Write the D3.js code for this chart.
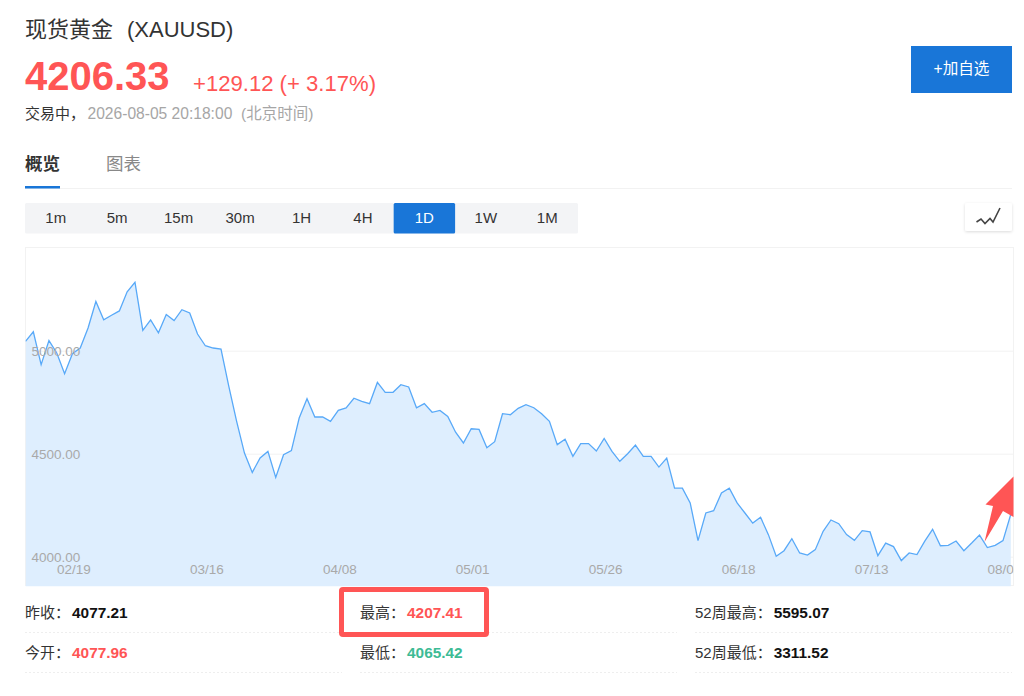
<!DOCTYPE html>
<html><head><meta charset="utf-8">
<script src="https://cdn.jsdelivr.net/npm/d3@7/dist/d3.min.js"></script>
<style>
html,body{margin:0;padding:0;background:#fff;overflow:hidden}
svg{display:block}
text{font-family:"Liberation Sans","Noto Sans CJK SC",sans-serif}
</style></head><body>
<svg id="c" width="1024" height="696"></svg>
<script>
const prices = [5045,5092,4932,5049,4989,4888,4985,5013,5110,5239,5150,5172,5193,5286,5332,5099,5150,5087,5176,5146,5199,5183,5081,5024,5013,5008,4827,4657,4503,4409,4479,4511,4385,4495,4515,4673,4767,4678,4678,4657,4710,4722,4769,4754,4743,4846,4798,4798,4835,4824,4723,4743,4701,4710,4681,4604,4552,4621,4618,4529,4558,4694,4689,4720,4738,4723,4694,4657,4544,4570,4487,4549,4549,4513,4574,4511,4463,4500,4542,4487,4487,4435,4479,4333,4333,4261,4078,4212,4223,4309,4332,4261,4212,4163,4191,4107,4002,4029,4087,4018,4008,4034,4123,4178,4160,4107,4079,4126,4120,4005,4066,4049,3981,4018,4010,4075,4133,4053,4055,4076,4029,4066,4105,4044,4055,4078,4206];
const xTickIndex = [6,23,40,57,74,91,108,125];
const xTickLabels = ["02/19","03/16","04/08","05/01","05/26","06/18","07/13","08/05"];
const yTicks = [4000,4500,5000];
const periods = ["1m","5m","15m","30m","1H","4H","1D","1W","1M"];
const activePeriod = "1D";
const statRows = [
  [["昨收","4077.21","#111"],["最高","4207.41","#ff5555"],["52周最高","5595.07","#111"]],
  [["今开","4077.96","#ff5555"],["最低","4065.42","#3dbb95"],["52周最低","3311.52","#111"]]
];

const svg = d3.select("#c");
const red = "#ff5555", blue = "#1976d8";
function T(x,y,s,size,fill,weight,anchor){
  return svg.append("text").attr("x",x).attr("y",y).attr("font-size",size).attr("fill",fill)
    .attr("font-weight",weight||400).attr("text-anchor",anchor||"start").text(s);
}
// header
T(25,37,"现货黄金",22,"#333");
T(127,37,"(XAUUSD)",22,"#333");
T(25,90,"4206.33",40,red,700);
T(193,91,"+129.12 (+ 3.17%)",22.1,red);
T(25,119,"交易中，",15,"#333");
T(87.5,119,"2026-08-05 20:18:00",15.6,"#a6a6a6");
T(241,119,"(北京时间)",15.5,"#a6a6a6");
svg.append("rect").attr("x",911).attr("y",46).attr("width",101).attr("height",47).attr("fill",blue);
T(961.5,74,"+加自选",15.6,"#fff",400,"middle");
// tabs
T(25,170,"概览",17.5,"#333",700);
T(106,170,"图表",17.5,"#888");
svg.append("line").attr("x1",25).attr("x2",1012).attr("y1",188.5).attr("y2",188.5).attr("stroke","#f2f2f2");
svg.append("rect").attr("x",25).attr("y",186).attr("width",35).attr("height",2.5).attr("fill",blue);
// period buttons
const pb = d3.scaleBand().domain(periods).range([25,578]);
svg.append("rect").attr("x",25).attr("y",203).attr("width",553).attr("height",30.5).attr("rx",1.5).attr("fill","#f3f4f6");
svg.selectAll("rect.p").data(periods).join("rect").attr("class","p")
  .attr("x",d=>pb(d)).attr("y",203).attr("width",pb.bandwidth()).attr("height",30.5).attr("rx",1.5)
  .attr("fill",d=>d===activePeriod?blue:"none");
svg.selectAll("text.p").data(periods).join("text").attr("class","p")
  .attr("x",d=>pb(d)+pb.bandwidth()/2).attr("y",222.7).attr("text-anchor","middle").attr("font-size",15)
  .attr("fill",d=>d===activePeriod?"#fff":"#333").text(d=>d);
// icon button
const defs = svg.append("defs");
const f = defs.append("filter").attr("id","sh").attr("x","-20%").attr("y","-20%").attr("width","140%").attr("height","150%");
f.append("feDropShadow").attr("dx",0).attr("dy",1).attr("stdDeviation",1.5).attr("flood-color","#000").attr("flood-opacity",0.14);
svg.append("rect").attr("x",965).attr("y",203).attr("width",47).attr("height",28).attr("rx",2).attr("fill","#fff").attr("filter","url(#sh)");
svg.append("path").attr("d","M976.5 222 L981 219 L985 223.5 L990 218.5 L993 222 L1000 208").attr("fill","none").attr("stroke","#444").attr("stroke-width",1.6);
// chart
const L=25.5,R=1013.5,TOP=247.5,BOT=585.5;
const x = d3.scaleLinear().domain([0,prices.length-1]).range([25.5,1010.8]);
const y = d3.scaleLinear().domain([3860,5500]).range([585.5,247.7]);
defs.append("clipPath").attr("id","plot").append("rect").attr("x",L).attr("y",TOP).attr("width",R-L).attr("height",BOT-TOP+1);
svg.append("rect").attr("x",L).attr("y",TOP).attr("width",R-L).attr("height",BOT-TOP).attr("fill","#fff").attr("stroke","#f2f2f2");
const g = svg.append("g").attr("clip-path","url(#plot)");
g.append("g").attr("transform",`translate(${L},0)`)
  .call(d3.axisRight(y).tickValues(yTicks).tickSize(R-L).tickFormat(""))
  .call(s=>s.select(".domain").remove())
  .call(s=>s.selectAll("line").attr("stroke","#f2f2f2"));
g.append("path").datum(prices).attr("fill","#deeefe")
  .attr("d",d3.area().x((d,i)=>x(i)).y0(BOT+1).y1(d=>y(d)));
g.append("path").datum(prices).attr("fill","none").attr("stroke","#58a9f8").attr("stroke-width",1.3)
  .attr("d",d3.line().x((d,i)=>x(i)).y(d=>y(d)));
g.selectAll("text.y").data(yTicks).join("text").attr("class","y")
  .attr("x",31.5).attr("y",d=>y(d)+5.2).attr("font-size",13.5).attr("fill","#a9a9a9").text(d=>d3.format(".2f")(d));
g.selectAll("text.x").data(xTickIndex).join("text").attr("class","x")
  .attr("x",d=>x(d)+1.5).attr("y",574).attr("text-anchor","middle").attr("font-size",13.5).attr("fill","#a9a9a9")
  .text((d,i)=>xTickLabels[i]);
// stats
const colX=[25,360,695], rowY=[618,658], lineY=[632,672];
statRows.forEach((row,r)=>row.forEach((c,k)=>{
  const t=T(colX[k],rowY[r],c[0]+"：",15,"#333");
  const w=t.node().getComputedTextLength();
  T(colX[k]+w+2,rowY[r],c[1],15.4,c[2],700);
  svg.append("line").attr("x1",colX[k]).attr("x2",colX[k]+317).attr("y1",lineY[r]+.5).attr("y2",lineY[r]+.5)
    .attr("stroke","#eeeeee").attr("stroke-dasharray","2 2");
}));
// annotations
svg.append("rect").attr("x",341.5).attr("y",589.5).attr("width",145).attr("height",45).attr("rx",1.5)
  .attr("fill","none").attr("stroke",red).attr("stroke-width",5);
svg.append("path").attr("d","M1013.5 476.5 L985.5 504.5 L993 506 L984.5 542 L1003 511 L1013.5 517 Z").attr("fill",red);
</script></body></html>
